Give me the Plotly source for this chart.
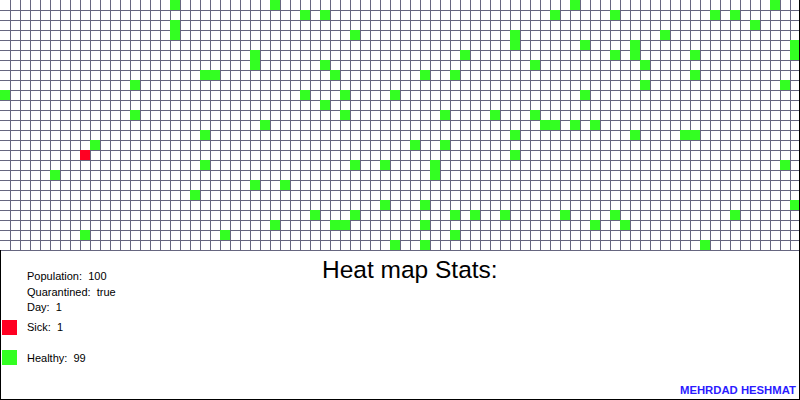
import numpy as np
import plotly.graph_objects as go

N_COLS = 80
N_ROWS = 25

# (col, row) of healthy people, row 0 at top
healthy_cells = [
    (17, 0), (17, 2), (17, 3), (13, 8), (0, 9), (13, 11),
    (9, 14), (5, 17), (19, 19), (8, 23),
    (27, 0), (30, 1), (32, 1), (35, 3), (25, 5), (25, 6), (32, 6), (20, 7), (21, 7),
    (33, 7), (30, 9), (34, 9), (39, 9), (32, 10), (34, 11), (26, 12),
    (57, 0), (55, 1), (51, 3), (51, 4), (58, 4), (46, 5), (53, 6), (42, 7), (45, 7),
    (58, 9), (44, 11), (49, 11), (53, 11), (54, 12), (55, 12), (57, 12), (59, 12),
    (77, 0), (61, 1), (71, 1), (73, 1), (75, 2), (66, 3), (63, 4), (63, 5), (79, 4),
    (79, 5), (61, 5), (69, 5), (64, 6), (69, 7), (64, 8), (78, 8),
    (20, 13), (20, 16), (35, 16), (38, 16), (25, 18), (28, 18), (38, 20), (31, 21),
    (35, 21), (27, 22), (33, 22), (34, 22), (22, 23), (39, 24),
    (51, 13), (41, 14), (44, 14), (51, 15), (43, 16), (43, 17), (42, 20), (45, 21),
    (47, 21), (50, 21), (56, 21), (42, 22), (59, 22), (45, 23), (42, 24),
    (63, 13), (68, 13), (69, 13), (78, 16), (79, 20), (61, 21), (73, 21), (62, 22), (70, 24),
]
sick_cells = [(8, 15)]

stats_labels = ["Population:  100", "Quarantined:  true", "Day:  1"]
sick_label = "Sick:  1"
healthy_label = "Healthy:  99"
title_text = "Heat map Stats:"
author_text = "MEHRDAD HESHMAT"

GREEN = "#33ff22"
RED = "#ff0022"
GRID = "#666680"

z = np.full((N_ROWS, N_COLS), np.nan)
for c, r in healthy_cells:
    z[r, c] = 1
for c, r in sick_cells:
    z[r, c] = 2

xs = [i + 0.5 for i in range(N_COLS)]
ys = [j + 0.5 for j in range(N_ROWS)]

fig = go.Figure()
fig.add_trace(go.Heatmap(
    z=z, x=xs, y=ys, zmin=1, zmax=2,
    colorscale=[[0, GREEN], [0.5, GREEN], [0.5, RED], [1, RED]],
    showscale=False, hoverinfo="skip",
))

W, H = 800, 400
GRID_H = 250


def py(p):
    return (GRID_H - p) / GRID_H


def px(p):
    return p / W


annotations = []
for i, t in enumerate(stats_labels):
    annotations.append(dict(x=px(24.5), y=py(276 + i * 15.5), text=t))
annotations.append(dict(x=px(24.5), y=py(327), text=sick_label))
annotations.append(dict(x=px(24.5), y=py(357.5), text=healthy_label))
for a in annotations:
    a.update(xref="paper", yref="paper", xanchor="left", yanchor="middle", showarrow=False,
             font=dict(family="Liberation Sans, Arial", size=11, color="black"))
annotations.append(dict(x=px(410), y=py(269), xref="paper", yref="paper", text=title_text,
                        xanchor="center", yanchor="middle", showarrow=False,
                        font=dict(family="Liberation Sans, Arial", size=24.5, color="black")))
annotations.append(dict(x=px(798), y=py(390), xref="paper", yref="paper",
                        text="<b>" + author_text + "</b>",
                        xanchor="right", yanchor="middle", showarrow=False,
                        font=dict(family="Liberation Sans, Arial", size=11.3, color="#2b1bff")))

shapes = [
    dict(type="rect", xref="paper", yref="paper", x0=px(2), x1=px(17), y0=py(320), y1=py(335),
         fillcolor=RED, line=dict(width=0)),
    dict(type="rect", xref="paper", yref="paper", x0=px(2), x1=px(17), y0=py(350), y1=py(365),
         fillcolor=GREEN, line=dict(width=0)),
    dict(type="line", xref="paper", yref="paper", x0=px(0), x1=px(800), y0=py(250.5), y1=py(250.5),
         line=dict(color=GRID, width=1)),
    dict(type="line", xref="paper", yref="paper", x0=px(0.5), x1=px(0.5), y0=py(250), y1=py(400),
         line=dict(color="black", width=1)),
    dict(type="line", xref="paper", yref="paper", x0=px(799.5), x1=px(799.5), y0=py(0), y1=py(400),
         line=dict(color="black", width=1)),
    dict(type="line", xref="paper", yref="paper", x0=px(0), x1=px(800), y0=py(399.5), y1=py(399.5),
         line=dict(color="black", width=1)),
]

fig.update_layout(
    width=W, height=H,
    margin=dict(l=0, r=0, t=0, b=H - GRID_H, pad=0),
    paper_bgcolor="white", plot_bgcolor="white",
    showlegend=False,
    xaxis=dict(range=[0, N_COLS], showgrid=True, gridcolor=GRID, gridwidth=1, dtick=1, tick0=0,
               showticklabels=False, ticks="", zeroline=False, showline=False, fixedrange=True),
    yaxis=dict(range=[N_ROWS, 0], showgrid=True, gridcolor=GRID, gridwidth=1, dtick=1, tick0=0,
               showticklabels=False, ticks="", zeroline=False, showline=False, fixedrange=True),
    annotations=annotations,
    shapes=shapes,
)

fig.write_html("out.html", config={"displayModeBar": False})
